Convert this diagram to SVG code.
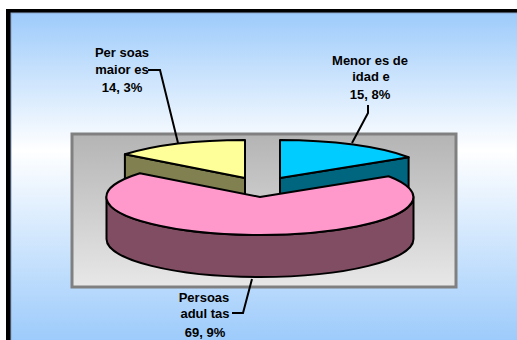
<svg xmlns="http://www.w3.org/2000/svg" width="517" height="340" viewBox="0 0 517 340">
  <defs>
    <linearGradient id="bg" gradientUnits="userSpaceOnUse" x1="0" y1="13" x2="0" y2="340">
      <stop offset="0" stop-color="#9dcbfb"/>
      <stop offset="0.42" stop-color="#ffffff"/>
      <stop offset="1" stop-color="#9dcbfb"/>
    </linearGradient>
    <linearGradient id="plot" gradientUnits="userSpaceOnUse" x1="0" y1="134" x2="0" y2="288">
      <stop offset="0" stop-color="#b4b4b4"/>
      <stop offset="1" stop-color="#e8e8e8"/>
    </linearGradient>
    <style>
      .face { stroke: #000; stroke-width: 2; stroke-linejoin: round; }
      .lead { fill: none; stroke: #000; stroke-width: 2; stroke-linejoin: miter; }
      .lbl { font-family: "Liberation Sans", Arial, sans-serif; font-weight: bold; font-size: 13px; fill: #000; text-anchor: middle; }
    </style>
  </defs>
  <rect x="0" y="0" width="517" height="340" fill="#ffffff"/>
  <g id="frame">
    <rect x="6" y="9" width="520" height="340" fill="#000000"/>
    <rect x="11" y="13" width="515" height="335" fill="url(#bg)" stroke="#8aa6c8" stroke-width="1"/>
  </g>
  <g id="plot-area">
    <rect x="72" y="134" width="384" height="153" fill="url(#plot)" stroke="#808080" stroke-width="3"/>
  </g>
  <g id="slice-maiores">
    <path class="face" fill="#808050" d="M 245 178 L 124.9 154.3 L 124.9 196.3 L 245 220 Z"/>
    <path class="face" fill="#ffff99" d="M 245 178 L 245 140 A 153.5 38 0 0 0 124.9 154.3 Z"/>
  </g>
  <g id="slice-menores">
    <path class="face" fill="#006680" d="M 280 178 L 408.6 157.3 L 408.6 199.3 L 280 220 Z"/>
    <path class="face" fill="#00ccff" d="M 280 178 L 280 140 A 153.5 38 0 0 1 408.6 157.3 Z"/>
  </g>
  <g id="slice-adultas">
    <path class="face" fill="#804d62" d="M 106.5 197 A 153.5 38 0 0 0 413.5 197 L 413.5 239 A 153.5 38 0 0 1 106.5 239 Z"/>
    <path class="face" fill="#ff99cc" d="M 260 197 L 139.9 173.3 A 153.5 38 0 1 0 388.6 176.3 Z"/>
  </g>
  <g id="connectors">
    <polyline class="lead" points="148,70 160,70 178,143"/>
    <polyline class="lead" points="368,105 368,113 352,143"/>
    <polyline class="lead" points="252,279 243,313 232,313"/>
  </g>
  <g id="label-maiores">
    <text class="lbl" x="122" y="57">Per soas</text>
    <text class="lbl" x="122" y="74">maior es</text>
    <text class="lbl" x="122" y="92">14, 3%</text>
  </g>
  <g id="label-menores">
    <text class="lbl" x="370" y="65">Menor es de</text>
    <text class="lbl" x="371" y="81">idad e</text>
    <text class="lbl" x="370" y="99">15, 8%</text>
  </g>
  <g id="label-adultas">
    <text class="lbl" x="204" y="302">Persoas</text>
    <text class="lbl" x="205" y="318">adul tas</text>
    <text class="lbl" x="205" y="337">69, 9%</text>
  </g>
</svg>
